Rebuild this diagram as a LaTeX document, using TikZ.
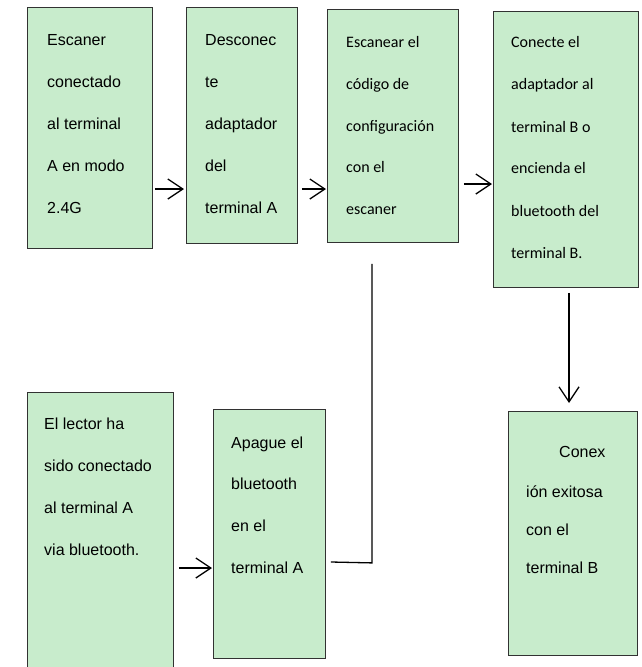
\documentclass[tikz,border=0pt]{standalone}
\usepackage{fontspec}
\setmainfont{Liberation Sans}
\newfontfamily\calfont{Carlito}
\usetikzlibrary{arrows.meta,calc}
\definecolor{boxfill}{RGB}{200,236,204}
\definecolor{boxline}{RGB}{50,50,50}
\begin{document}
\begin{tikzpicture}[x=1pt,y=-1pt,
  box/.style={draw=boxline,line width=0.9pt,fill=boxfill,anchor=north west,inner sep=0pt},
  txt/.style={anchor=base west,inner sep=0pt,font=\fontsize{16}{19}\selectfont},
  ctxt/.style={anchor=base west,inner sep=0pt,font=\calfont\fontsize{16}{19}\selectfont},
  arr/.style={line width=1.3pt,-{Straight Barb[length=15pt,width=20pt,line width=1.3pt]}},
  conn/.style={line width=1.3pt}]
\clip (0,0) rectangle (641,667);
\fill[white] (0,0) rectangle (641,667);
% boxes
\node[box,minimum width=125,minimum height=241] (b1) at (27,7) {};
\node[box,minimum width=111,minimum height=236] (b2) at (186,7) {};
\node[box,minimum width=131,minimum height=233] (b3) at (327,9) {};
\node[box,minimum width=145,minimum height=276] (b4) at (493,11) {};
\node[box,minimum width=146,minimum height=290] (b5) at (27,392) {};
\node[box,minimum width=112,minimum height=249] (b6) at (213,409) {};
\node[box,minimum width=129,minimum height=244] (b7) at (508,411) {};
% box 1 text
\node[txt] (t1a) at (47,45) {Escaner};
\node[txt] (t1b) at (47,87) {conectado};
\node[txt] (t1c) at (47,129) {al terminal};
\node[txt] (t1d) at (47,171) {A en modo};
\node[txt] (t1e) at (47,213) {2.4G};
% box 2 text
\node[txt] (t2a) at (205,45) {Desconec};
\node[txt] (t2b) at (205,87) {te};
\node[txt] (t2c) at (205,129) {adaptador};
\node[txt] (t2d) at (205,171) {del};
\node[txt] (t2e) at (205,213) {terminal A};
% box 3 text
\node[ctxt] (t3a) at (346,47) {Escanear el};
\node[ctxt] (t3b) at (346,89) {código de};
\node[ctxt] (t3c) at (346,131) {configuración};
\node[ctxt] (t3d) at (346,172) {con el};
\node[ctxt] (t3e) at (346,214) {escaner};
% box 4 text
\node[ctxt] (t4a) at (511,47) {Conecte el};
\node[ctxt] (t4b) at (511,89) {adaptador al};
\node[ctxt] (t4c) at (511,132) {terminal B o};
\node[ctxt] (t4d) at (511,173) {encienda el};
\node[ctxt] (t4e) at (511,216) {bluetooth del};
\node[ctxt] (t4f) at (511,258) {terminal B.};
% box 5 text
\node[txt] (t5a) at (44,429) {El lector ha};
\node[txt] (t5b) at (44,471) {sido conectado};
\node[txt] (t5c) at (44,513) {al terminal A};
\node[txt] (t5d) at (44,555) {via bluetooth.};
% box 6 text
\node[txt] (t6a) at (231,448) {Apague el};
\node[txt] (t6b) at (231,489) {bluetooth};
\node[txt] (t6c) at (231,531) {en el};
\node[txt] (t6d) at (231,573) {terminal A};
% box 7 text
\node[txt] (t7a) at (559,457) {Conex};
\node[txt] (t7b) at (526,497) {ión exitosa};
\node[txt] (t7c) at (526,535) {con el};
\node[txt] (t7d) at (526,573) {terminal B};
% connectors
\draw[arr] ($(b1.north east)+(2,182)$) -- ($(b2.north west)+(-2,182)$);
\draw[arr] ($(b2.north east)+(4,182)$) -- ($(b3.north west)+(-1,180)$);
\draw[arr] ($(b3.north east)+(5,175)$) -- ($(b4.north west)+(-1,173)$);
\draw[arr] ($(b4.south west)+(76,5)$) -- ($(b7.north west)+(61,-8)$);
\draw[arr] ($(b5.north east)+(5,176)$) -- ($(b6.north west)+(-1,159)$);
\draw[conn] ($(b3.south west)+(45,21)$) -- ($(b3.south west)+(45,320)$) -- ($(b6.north east)+(5,153)$);
\end{tikzpicture}
\end{document}
